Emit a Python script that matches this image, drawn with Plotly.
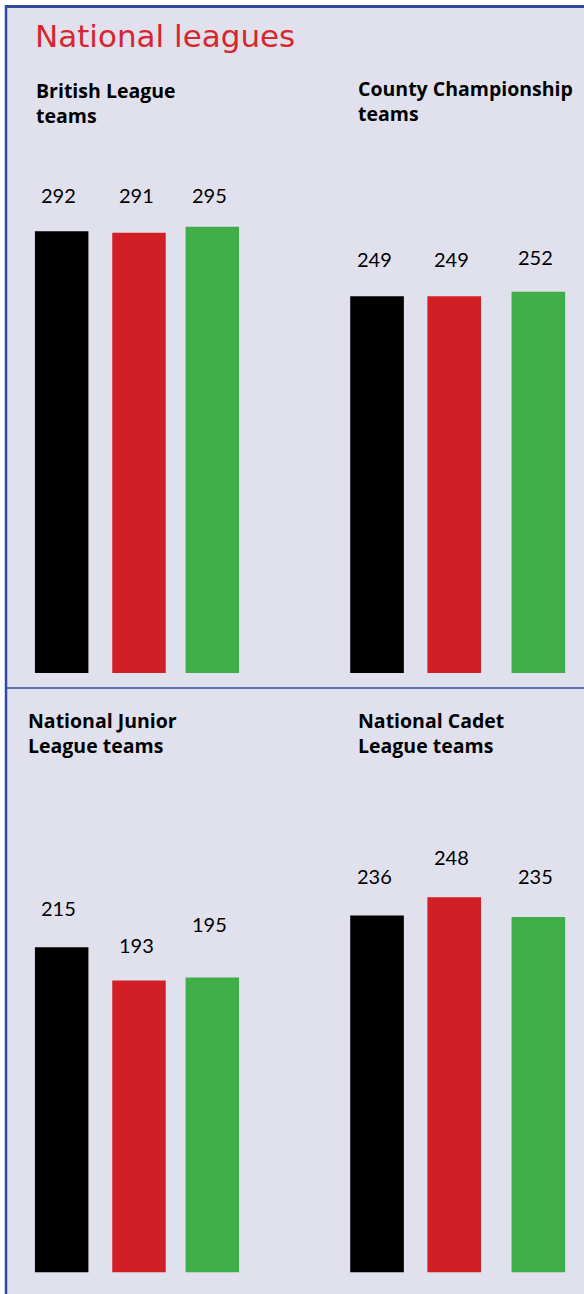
import plotly.graph_objects as go

W, H = 584, 1294

# ---- data ----
seasons = ["Season 1", "Season 2", "Season 3"]
panel_titles = ["British League<br>teams", "County Championship<br>teams",
                "National Junior<br>League teams", "National Cadet<br>League teams"]
british_league = [292, 291, 295]
county_championship = [249, 249, 252]
national_junior = [215, 193, 195]
national_cadet = [236, 248, 235]
bar_colors = ["#000000", "#D21F26", "#41AD49"]
title_text = "National leagues"

panels = [british_league, county_championship, national_junior, national_cadet]

# ---- layout helpers (pixels -> paper) ----
def px_x(x):
    return x / W

def px_y(y):
    return 1 - y / H

K = 1.513          # pixels per unit
YMAX = 330
xdoms = [(24.0, 250.0), (336.7, 578.7)]
bottoms = [673.0, 1272.5]
bar_w = [0.71, 0.665]
# small per-bar horizontal nudges (pixels) and label offsets (pixels above bar top)
bar_nudge = [[0, 2, 0], [0, -3.5, 0]]
label_gap = [[36, 38, 32], [37, 37, 35], [39, 35.5, 53], [39, 40, 40.5]]

fig = go.Figure()
layout_axes = {}
annotations = []
for i, vals in enumerate(panels):
    col = i % 2
    row = i // 2
    n = i + 1
    xa = "x" if n == 1 else f"x{n}"
    ya = "y" if n == 1 else f"y{n}"
    x0, x1 = xdoms[col]
    slot = (x1 - x0) / 3.0
    offs = [-bar_w[col] / 2 + d / slot for d in bar_nudge[col]]
    fig.add_trace(go.Bar(
        x=seasons, y=vals, xaxis=xa, yaxis=ya,
        marker=dict(color=bar_colors, line=dict(width=0)),
        width=bar_w[col], offset=offs, showlegend=False, hoverinfo="x+y",
    ))
    b = bottoms[row]
    t = b - YMAX * K
    xkey = "xaxis" if n == 1 else f"xaxis{n}"
    ykey = "yaxis" if n == 1 else f"yaxis{n}"
    layout_axes[xkey] = dict(domain=[px_x(x0), px_x(x1)], anchor=ya,
                             type="category", range=[-0.5, 2.5],
                             showticklabels=False, showgrid=False,
                             zeroline=False, showline=False, ticks="")
    layout_axes[ykey] = dict(domain=[px_y(b), px_y(t)], anchor=xa,
                             range=[0, YMAX], showticklabels=False,
                             showgrid=False, zeroline=False, showline=False,
                             ticks="")
    for j, (s, v) in enumerate(zip(seasons, vals)):
        annotations.append(dict(
            x=s, y=v, xref=xa, yref=ya, text=str(v), showarrow=False,
            yanchor="middle", xanchor="center",
            yshift=label_gap[i][j], xshift=bar_nudge[col][j] - 3,
            font=dict(family="Lato", size=20, color="#000000"),
        ))

# panel titles
title_pos = [(34, 75), (356, 73), (26, 705), (356, 705)]
for (tx, ty), txt in zip(title_pos, panel_titles):
    annotations.append(dict(
        x=px_x(tx), y=px_y(ty), xref="paper", yref="paper", text=txt,
        showarrow=False, xanchor="left", yanchor="top", align="left",
        font=dict(family="Open Sans", size=19.5, color="#000000", weight="bold"),
    ))

# main title
annotations.append(dict(
    x=px_x(33), y=px_y(16), xref="paper", yref="paper", text=title_text,
    showarrow=False, xanchor="left", yanchor="top", align="left",
    font=dict(family="DejaVu Sans", size=31, color="#D7262E"),
))

BLUE = "#2E4A9E"
shapes = [
    dict(type="rect", xref="paper", yref="paper", x0=px_x(5), x1=1.01,
         y0=-0.01, y1=px_y(5), fillcolor="#E1E1EE", line=dict(width=0),
         layer="below"),
    dict(type="line", xref="paper", yref="paper", x0=px_x(5), x1=1.01,
         y0=px_y(6.5), y1=px_y(6.5), line=dict(color=BLUE, width=3)),
    dict(type="line", xref="paper", yref="paper", x0=px_x(6), x1=px_x(6),
         y0=-0.01, y1=px_y(5), line=dict(color=BLUE, width=2.5)),
    dict(type="line", xref="paper", yref="paper", x0=px_x(5), x1=1.01,
         y0=px_y(688), y1=px_y(688), line=dict(color=BLUE, width=1.5)),
]

fig.update_layout(
    width=W, height=H, margin=dict(l=0, r=0, t=0, b=0),
    paper_bgcolor="#FFFFFF", plot_bgcolor="rgba(0,0,0,0)",
    annotations=annotations, shapes=shapes, bargap=0.3,
    **layout_axes,
)

fig.write_html("out.html", config={"displayModeBar": False},
               post_script="document.body.style.margin='0';document.body.style.overflow='hidden';")
